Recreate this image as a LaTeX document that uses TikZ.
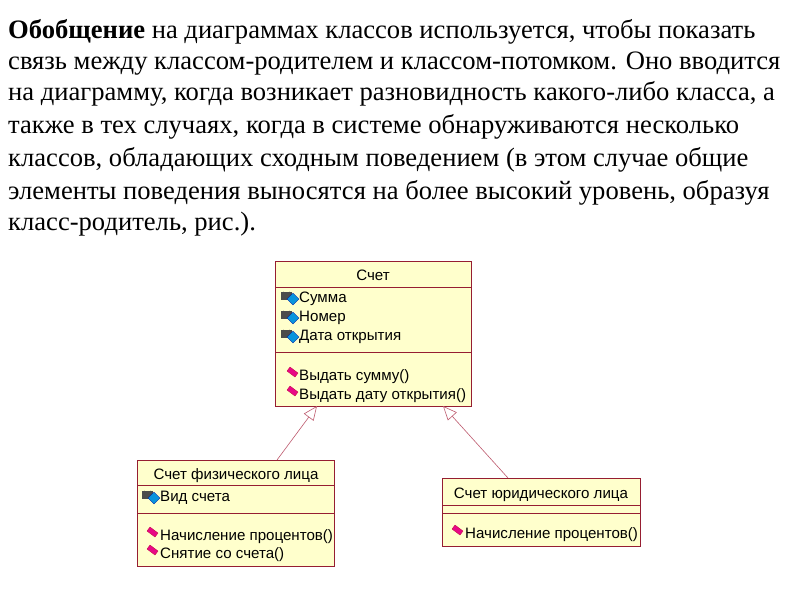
\documentclass[tikz,border=0pt]{standalone}
\usepackage{fontspec}
\setmainfont{Liberation Serif}
\newfontfamily\umlfont{Liberation Sans}
\usetikzlibrary{arrows.meta,calc}
\definecolor{bord}{RGB}{150,30,50}
\definecolor{fillc}{RGB}{255,255,204}
\definecolor{umlline}{RGB}{190,90,110}
\tikzset{
  x=1pt,y=-1pt,
  para/.style={anchor=base west,inner sep=0,font=\fontsize{26.6}{30}\selectfont},
  umlbox/.style={draw=bord,fill=fillc,line width=0.9pt},
  sep/.style={draw=bord,line width=0.9pt},
  utext/.style={anchor=base west,inner sep=0,font=\umlfont\fontsize{15.1}{17}\selectfont},
  gen/.style={draw=umlline,line width=0.6pt,-{Triangle[open,length=14pt,width=12pt,fill=white]}},
}
\newcommand{\attricon}[1]{%
  \fill[gray!60!black] ($#1+(-2,-10)$) rectangle ($#1+(9,-2)$);
  \draw[gray!60!black,line width=1.4pt] ($#1+(0,-10)$) arc[start angle=180,end angle=0,radius=3.5];
  \fill[cyan!80!blue,draw=blue!60!black,line width=0.3pt] ($#1+(10,-9)$) -- ($#1+(16,-3)$) -- ($#1+(10,3)$) -- ($#1+(4,-3)$) -- cycle;}
\newcommand{\opicon}[1]{%
  \fill[magenta!90!purple,draw=purple,line width=0.3pt] ($#1+(3,-13)$) -- ($#1+(11,-7)$) -- ($#1+(8,-3)$) -- ($#1+(0,-9)$) -- cycle;}
\begin{document}
\begin{tikzpicture}
\useasboundingbox (0,0) rectangle (800,600);
\fill[white] (0,0) rectangle (800,600);
\node[para] (l1) at (8,38) {\textbf{Обобщение} на диаграммах классов используется, чтобы показать};
\node[para] (l2) at (8,69) {связь между классом-родителем и классом-потомком. Оно вводится};
\node[para] (l3) at (8,100) {на диаграмму, когда возникает разновидность какого-либо класса, а};
\node[para] (l4) at (8,133) {также в тех случаях, когда в системе обнаруживаются несколько};
\node[para] (l5) at (8,166) {классов, обладающих сходным поведением (в этом случае общие};
\node[para] (l6) at (8,199) {элементы поведения выносятся на более высокий уровень, образуя};
\node[para] (l7) at (8,230) {класс-родитель, рис.).};
% main class
\draw[umlbox] (275,261) rectangle (471,406);
\coordinate (mainL) at (317,406);
\coordinate (mainR) at (443,406);
\draw[sep] (275,287) -- (471,287);
\draw[sep] (275,352) -- (471,352);
\node[utext,anchor=base] (t0) at (373,280) {Счет};
\attricon{(283,302)}\node[utext] (a1) at (299,302) {Сумма};
\attricon{(283,321)}\node[utext] (a2) at (299,321) {Номер};
\attricon{(283,340)}\node[utext] (a3) at (299,340) {Дата открытия};
\opicon{(287,380)}\node[utext] (o1) at (299,380) {Выдать сумму()};
\opicon{(287,399)}\node[utext] (o2) at (299,399) {Выдать дату открытия()};
% left
\draw[umlbox] (137,460) rectangle (334,566);
\coordinate (leftT) at (277,460);
\draw[sep] (137,485) -- (334,485);
\draw[sep] (137,513) -- (334,513);
\node[utext,anchor=base] (t1) at (236,479) {Счет физического лица};
\attricon{(144,501)}\node[utext] (b1) at (160,501) {Вид счета};
\opicon{(147,540)}\node[utext] (p1) at (160,540) {Начисление процентов()};
\opicon{(147,558)}\node[utext] (p2) at (160,558) {Снятие со счета()};
% right
\draw[umlbox] (442,478) rectangle (640,546);
\coordinate (rightT) at (508,478);
\draw[sep] (442,505) -- (640,505);
\draw[sep] (442,513) -- (640,513);
\node[utext,anchor=base] (t2) at (541,498) {Счет юридического лица};
\opicon{(452,538)}\node[utext] (q1) at (465,538) {Начисление процентов()};
\draw[gen] (leftT) -- (mainL);
\draw[gen] (rightT) -- (mainR);
\end{tikzpicture}
\end{document}
